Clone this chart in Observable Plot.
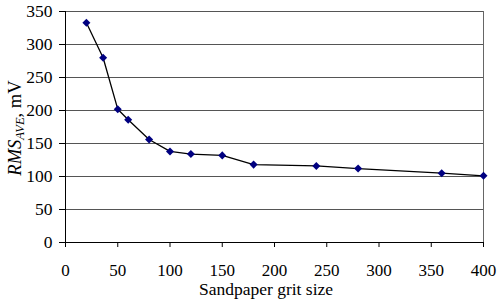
<!DOCTYPE html>
<html>
<head>
<meta charset="utf-8">
<script src="https://cdn.jsdelivr.net/npm/d3@7"></script>
<script src="https://cdn.jsdelivr.net/npm/@observablehq/plot@0.6"></script>
<style>
  html, body { margin: 0; padding: 0; background: #fff; }
  #chart svg { display: block; }
</style>
</head>
<body>
<div id="chart"></div>
<script>
const grit = [20, 36, 50, 60, 80, 100, 120, 150, 180, 240, 280, 360, 400];
const rmsAve = [333, 280, 202, 186, 156, 138, 134, 132, 118, 116, 112, 105, 101];
const xTicks = [0, 50, 100, 150, 200, 250, 300, 350, 400];
const yTicks = [0, 50, 100, 150, 200, 250, 300, 350];
const xLabel = "Sandpaper grit size";
const yLabelMain = "RMS";
const yLabelSub = "AVE";
const yLabelUnit = ", mV";

const data = grit.map((g, i) => ({grit: g, rms: rmsAve[i]}));
const serif = "'Liberation Serif', 'Times New Roman', serif";

const plot = Plot.plot({
  width: 499,
  height: 302,
  marginLeft: 65,
  marginRight: 16,
  marginTop: 11,
  marginBottom: 60,
  style: {fontFamily: serif, fontSize: "17px", color: "#000", background: "#fff"},
  x: {domain: [0, 400], ticks: xTicks, label: null},
  y: {domain: [0, 350], ticks: yTicks, label: null},
  marks: [
    Plot.ruleY(yTicks.filter(d => d > 0), {stroke: "#555", strokeWidth: 1, strokeOpacity: 1}),
    Plot.ruleX([400], {stroke: "#666", strokeWidth: 1}),
    Plot.ruleY([0], {stroke: "#000", strokeWidth: 1}),
    Plot.ruleX([0], {stroke: "#000", strokeWidth: 1}),
    Plot.axisX({ticks: xTicks, tickSize: 5, tickPadding: 16, label: null, fontSize: 17, stroke: "#000"}),
    Plot.axisY({ticks: yTicks, tickSize: 6, tickPadding: 7, label: null, fontSize: 17.5, stroke: "#000"}),
    Plot.line(data, {x: "grit", y: "rms", stroke: "#000", strokeWidth: 1.3}),
    Plot.dot(data, {x: "grit", y: "rms", symbol: "square", rotate: 45, r: 3.2, fill: "#000080", stroke: "none"})
  ]
});

const svg = d3.select(plot);
svg.append("text")
  .attr("x", 266).attr("y", 295)
  .attr("text-anchor", "middle")
  .attr("font-size", 17.5)
  .attr("fill", "#000")
  .text(xLabel);

const yl = svg.append("text")
  .attr("transform", "translate(21,128) rotate(-90)")
  .attr("text-anchor", "middle")
  .attr("font-size", 18.5)
  .attr("fill", "#000");
yl.append("tspan").attr("font-style", "italic").text(yLabelMain);
yl.append("tspan").attr("font-style", "italic").attr("font-size", 12.5).attr("dy", 3).text(yLabelSub);
yl.append("tspan").attr("dy", -3).text(yLabelUnit);

svg.selectAll("g, text").style("font-family", serif);
svg.style("font-family", serif);

document.getElementById("chart").appendChild(plot);
</script>
</body>
</html>
